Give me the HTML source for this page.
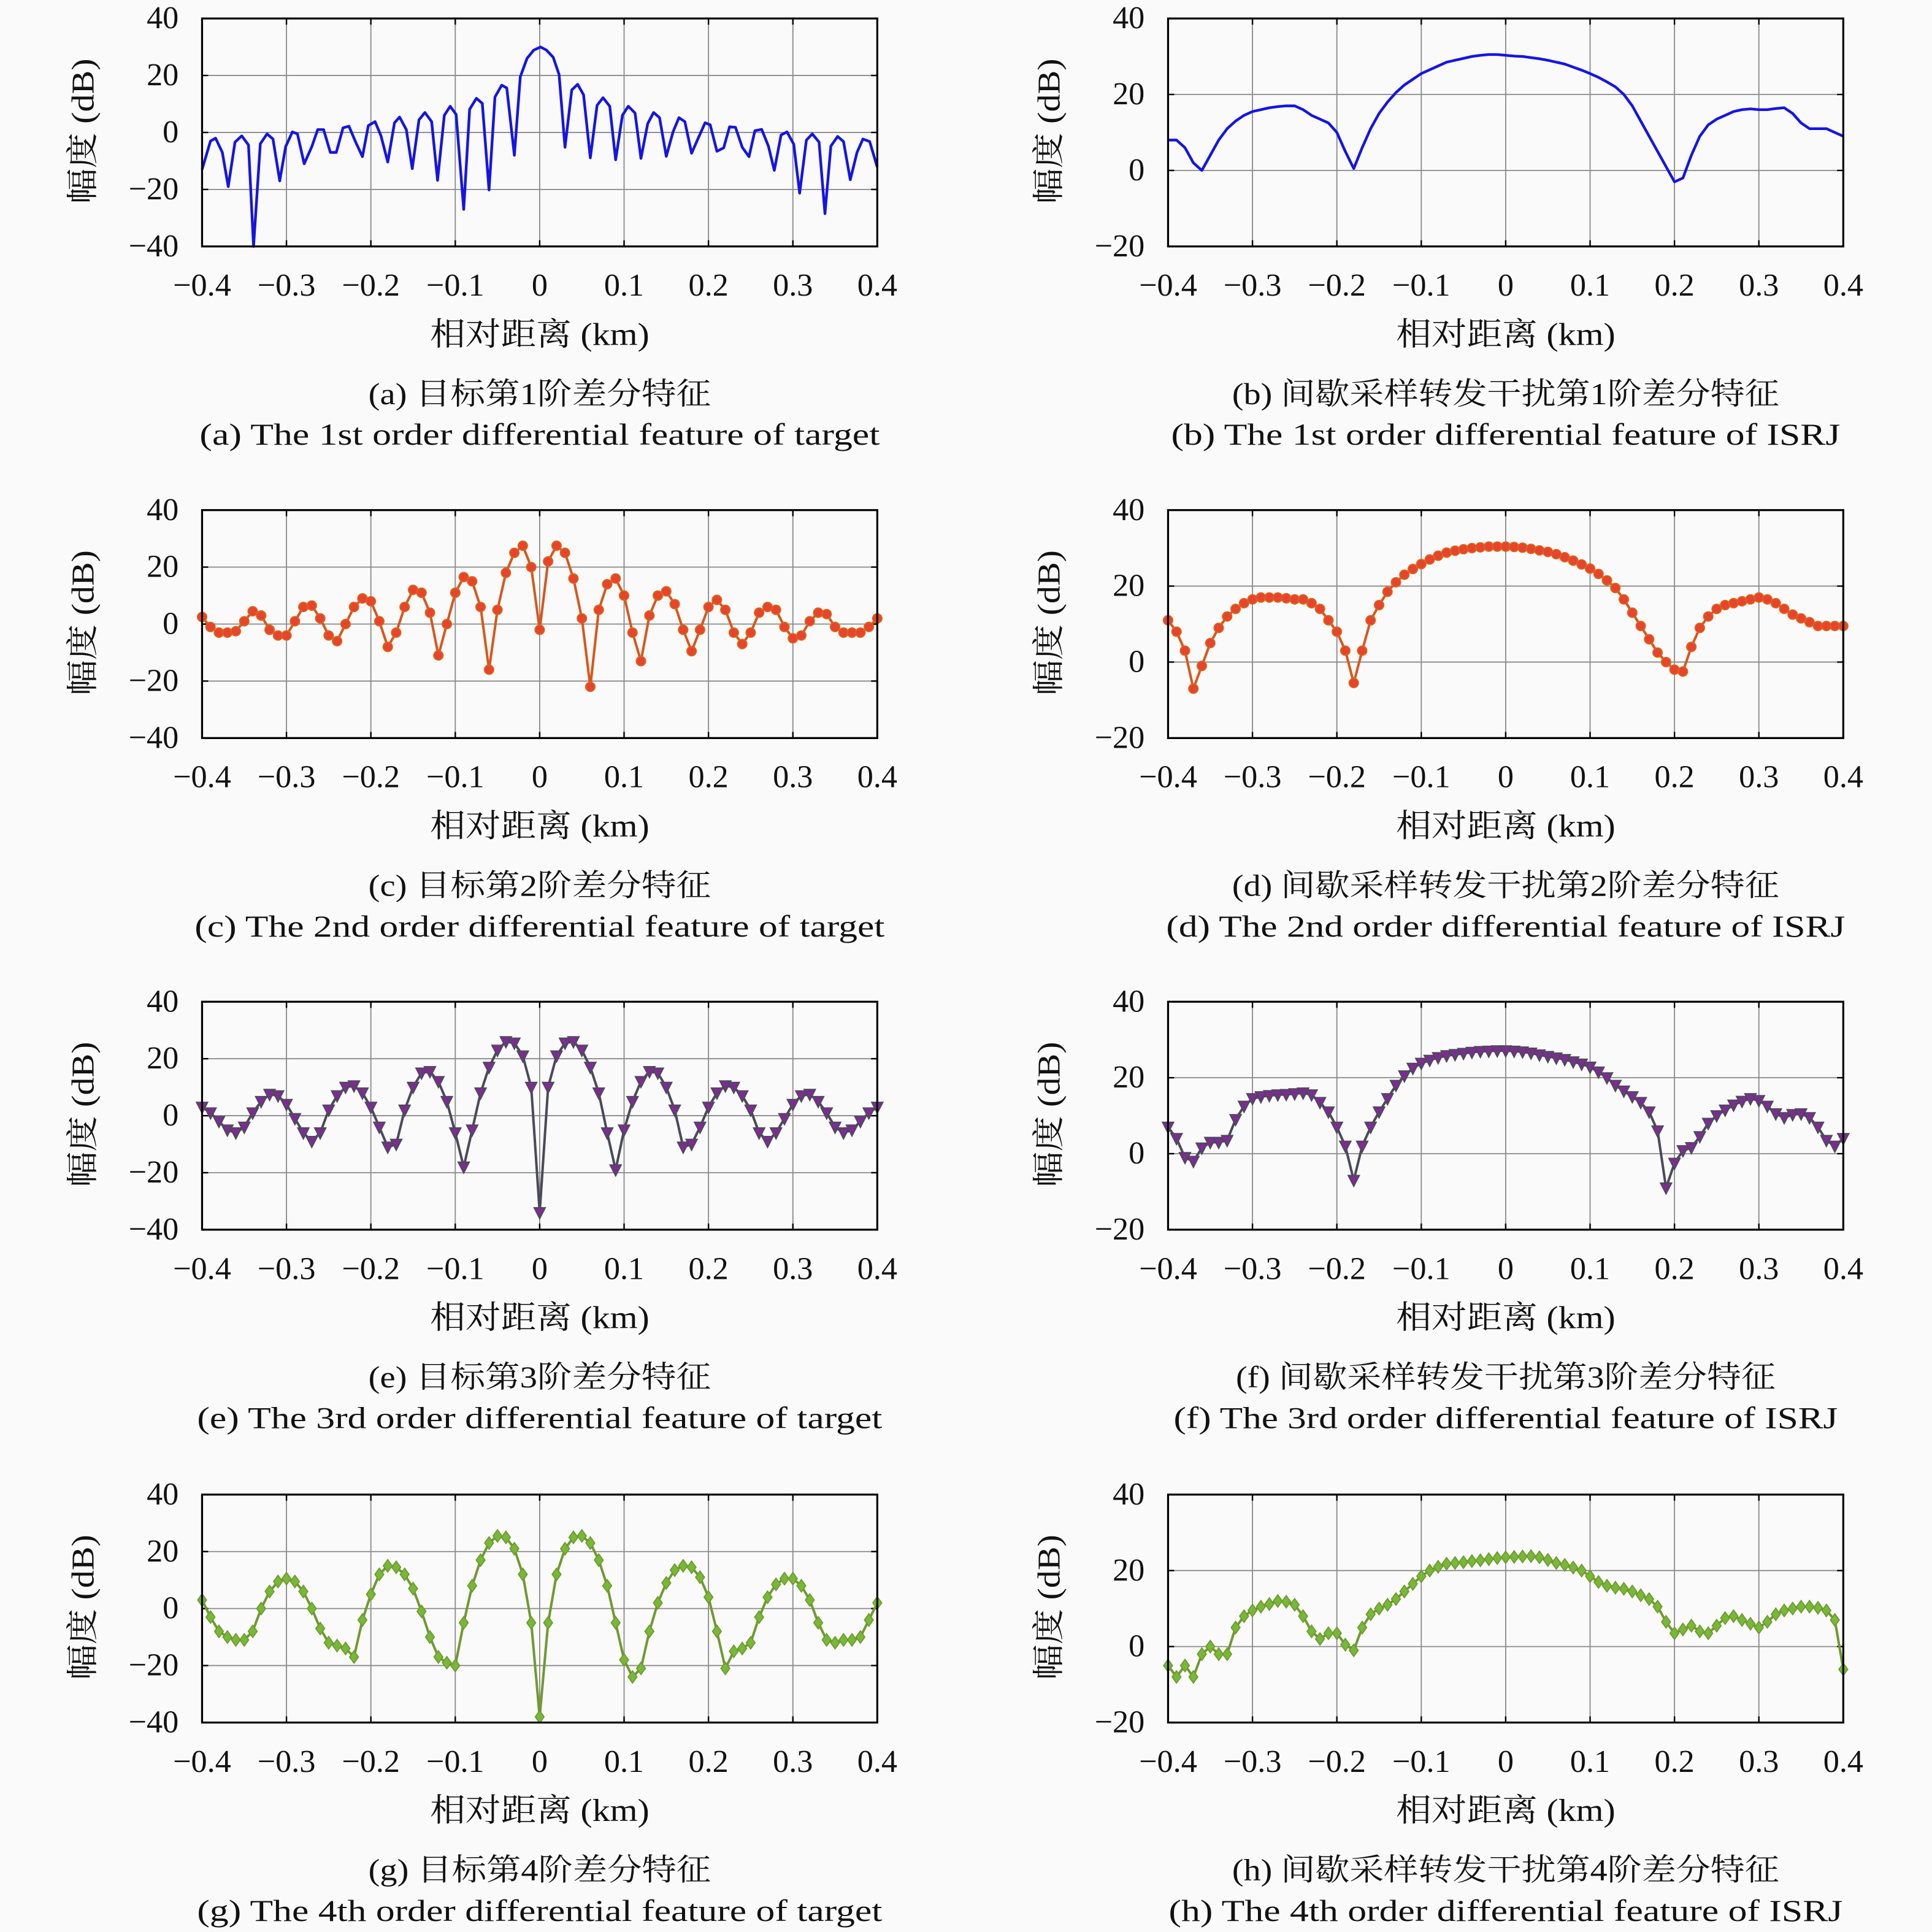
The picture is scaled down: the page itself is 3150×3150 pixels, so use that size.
<!DOCTYPE html>
<html><head><meta charset="utf-8">
<style>
html,body{margin:0;padding:0;background:#fafafa;}
svg{display:block;}
text{font-family:"Liberation Serif","Noto Serif CJK SC",serif;fill:#111;}
</style></head>
<body>
<svg id="fig" width="3150" height="3150" viewBox="0 0 1568 1568" xmlns="http://www.w3.org/2000/svg">
<rect x="0" y="0" width="1568" height="1568" fill="#fafafa"/>
</svg>
<script>
// ---- data ----
const xTicks = [-0.4,-0.3,-0.2,-0.1,0,0.1,0.2,0.3,0.4];
const xTickLabels = ["−0.4","−0.3","−0.2","−0.1","0","0.1","0.2","0.3","0.4"];
const yTicksLeft = [-40,-20,0,20,40];
const yTicksLeftLabels = ["−40","−20","0","20","40"];
const yTicksRight = [-20,0,20,40];
const yTicksRightLabels = ["−20","0","20","40"];

const xA = [-0.4,-0.390,-0.384,-0.376,-0.369,-0.361,-0.353,-0.345,-0.339,-0.331,-0.323,-0.316,-0.308,-0.301,-0.293,-0.287,-0.279,-0.270,-0.263,-0.256,-0.248,-0.241,-0.233,-0.226,-0.218,-0.210,-0.203,-0.195,-0.188,-0.180,-0.172,-0.166,-0.158,-0.151,-0.143,-0.136,-0.128,-0.121,-0.113,-0.106,-0.099,-0.090,-0.083,-0.075,-0.068,-0.060,-0.053,-0.045,-0.039,-0.030,-0.023,-0.015,-0.007,0.001,0.008,0.016,0.023,0.030,0.038,0.045,0.052,0.060,0.068,0.075,0.083,0.090,0.098,0.105,0.113,0.120,0.128,0.135,0.142,0.150,0.158,0.165,0.172,0.180,0.188,0.196,0.202,0.210,0.218,0.225,0.232,0.240,0.248,0.255,0.263,0.271,0.278,0.286,0.293,0.301,0.308,0.316,0.323,0.331,0.338,0.345,0.353,0.360,0.368,0.376,0.383,0.391,0.4];
const yA = [-13,-3,-2,-7,-19,-3.4,-1.2,-4.4,-40,-4,-0.5,-2.3,-17,-5,0.2,-0.5,-11,-5,1,1,-7,-7,1.6,2.2,-3.4,-8.5,2.4,3.8,-1.2,-10.4,3.4,5.4,1,-12.7,4.4,7,3.8,-16.8,6,9.2,6.3,-27,8.1,12,10.2,-20.2,12.4,16.6,15.6,-8,19.5,26,28.9,30,28.9,26.4,20.3,-5.2,14.9,16.9,13.2,-8.9,9.5,12.2,9.2,-9.6,6,9.2,6.8,-9.1,3.1,7,5.2,-8.4,0.2,5.2,3.8,-7.3,-1.9,3.4,2.7,-6.6,-5.4,2,1.8,-5.2,-8.5,0.6,1.1,-4.8,-13.3,-0.9,0.2,-4.1,-21.3,-2.7,-0.5,-3.4,-28.5,-4.8,-1.4,-3.2,-16.6,-7,-2.3,-3.2,-12.2];

const xGrid = [-0.40,-0.39,-0.38,-0.37,-0.36,-0.35,-0.34,-0.33,-0.32,-0.31,-0.30,-0.29,-0.28,-0.27,-0.26,-0.25,-0.24,-0.23,-0.22,-0.21,-0.20,-0.19,-0.18,-0.17,-0.16,-0.15,-0.14,-0.13,-0.12,-0.11,-0.10,-0.09,-0.08,-0.07,-0.06,-0.05,-0.04,-0.03,-0.02,-0.01,0,0.01,0.02,0.03,0.04,0.05,0.06,0.07,0.08,0.09,0.10,0.11,0.12,0.13,0.14,0.15,0.16,0.17,0.18,0.19,0.20,0.21,0.22,0.23,0.24,0.25,0.26,0.27,0.28,0.29,0.30,0.31,0.32,0.33,0.34,0.35,0.36,0.37,0.38,0.39,0.40];

const yB = [8,8,6,2,0,4,8,11,13,14.5,15.5,16,16.5,16.8,17,17,16,14.5,13.5,12.5,10,5,0.5,6,11,15,18,20.5,22.5,24,25.5,26.5,27.5,28.5,29,29.5,30,30.3,30.5,30.5,30.3,30.1,30,29.7,29.4,29,28.5,28,27.2,26.4,25.5,24.5,23.3,22,20,17,13,9,5,1,-3,-2,4,9,12,13.5,14.5,15.5,16,16.2,16,16,16.3,16.5,15,12.5,11,11,11,10,9];
const yC = [2.5,-1,-3,-3,-2.5,1,4.5,3,-2,-4,-4,1,6,6.5,2,-4,-6,0,6,9,8,1,-8,-3,6,12,11,4,-11,0,11,16.5,15,6,-16,5,18,25,27.5,20,-2,22,27.5,25,16,2,-22,5,14,16,10,-3,-13,3,10,11.5,7,-2,-9.5,-2,6,8.5,5,-3,-7,-3,4,6,5,-1,-5,-4,1,4,3.5,-1,-3,-3,-3,-1,2];
const yD = [11,8,3,-7,-1,5,9,12,14,15.5,16.5,17,17,17,16.8,16.5,16.5,15.5,14,11,8,3,-5.5,3,11,15,18.5,21,23,24.5,25.8,27,28,28.8,29.3,29.7,30,30.2,30.4,30.4,30.4,30.3,30.1,29.8,29.4,29,28.4,27.6,26.7,25.7,24.6,23.2,21.5,19.5,16.5,13,9.5,6,2.5,0,-2,-2.5,4,9,12,14,15,15.5,16,16.5,17,16.5,15.5,14,12.5,11.5,10.5,9.5,9.5,9.5,9.5];
const yE = [3,1,-2,-5,-6,-4,1,5,7.5,7,4,-1,-6,-9,-6,2,7,10,10.5,8,3,-4,-11,-10,2,10,15,15.5,12,5,-6,-18,-5,8,17,23,26,25.5,21,10,-34,10,21,25.5,26,23,17,8,-6,-19,-5,5,12,15.5,15,10,2,-11,-10,-4,3,8,10.5,10,7,2,-6,-9,-6,-1,4,7,7.5,5,1,-4,-6,-5,-2,1,3];
const yF = [7,4,-1,-2,1.5,3,3,3.5,9,12.5,14.5,15,15.3,15.5,15.6,15.8,16,15.5,13.5,11,7,2,-7,2,7,11,14.5,18,20.5,22.5,23.8,24.6,25.3,25.8,26.1,26.4,26.7,26.9,27,27.1,27.1,27,26.8,26.5,26,25.6,25.2,24.8,24.2,23.6,22.8,21.5,20,18,16.5,15,13.5,11,6,-9,-2.5,0.8,1.6,4.5,8,10,11.5,12.8,13.8,14.5,14,12.5,10.5,9.5,10.3,10.5,9.5,7,3.5,2,4];
const yG = [3,-3,-8,-10,-11,-11,-8,0,6,9.5,10.5,9.5,6,0,-7,-12,-13,-14,-17,-4,5,12,15,14.5,12,7,-1,-10,-17,-19,-20,-5,8,17,23,25.5,25,21,12,-5,-38,-5,12,21,25,25.5,23,17,8,-5,-18,-24,-21,-8,2,9,13.5,15,14.5,11,4,-8,-21,-15,-14,-12,-3,4,8.5,10.5,10.5,8,3,-5,-11,-12,-11,-11,-10,-4,2];
const yH = [-5,-8,-5,-8,-2,0,-2,-2,5,8,9.5,10.5,11.2,12,11.8,11,8,4,2,3.5,3.5,0.5,-1,5,8.5,10,11,12.5,14.5,16.5,18.5,20,21,21.8,22,22.2,22.5,22.7,23,23.3,23.5,23.6,23.7,23.8,23.5,22.8,22,21.5,20.8,20,18.5,17,16,15.5,15.2,14.5,13.5,12.5,10.5,6.5,3.5,4.5,5.5,4,3.5,5.5,7.5,8,7,6,5,6.5,8.5,9.5,10,10.5,10.5,10.2,9.5,7,-6];

const captionsZh = ["(a) 目标第1阶差分特征","(b) 间歇采样转发干扰第1阶差分特征","(c) 目标第2阶差分特征","(d) 间歇采样转发干扰第2阶差分特征","(e) 目标第3阶差分特征","(f) 间歇采样转发干扰第3阶差分特征","(g) 目标第4阶差分特征","(h) 间歇采样转发干扰第4阶差分特征"];
const captionsEn = ["(a) The 1st order differential feature of target","(b) The 1st order differential feature of ISRJ","(c) The 2nd order differential feature of target","(d) The 2nd order differential feature of ISRJ","(e) The 3rd order differential feature of target","(f) The 3rd order differential feature of ISRJ","(g) The 4th order differential feature of target","(h) The 4th order differential feature of ISRJ"];

// ---- drawing ----
const NS = "http://www.w3.org/2000/svg";
const svg = document.getElementById('fig');
function mk(tag, attrs, parent){ const e=document.createElementNS(NS,tag); for(const k in attrs) e.setAttribute(k,attrs[k]); (parent||svg).appendChild(e); return e; }

const zhLen = [278,444,278,444,278,438,278,444];
const enLen = [552,543,560,551,556,539,556,547];

const panels = [
 {xs:xA, ys:yA, col:0,row:0, yl:[-40,40], line:"#1414e6", lw:2.2, marker:null},
 {xs:xGrid, ys:yB, col:1,row:0, yl:[-20,40], line:"#1414e6", lw:2.2, marker:null},
 {xs:xGrid, ys:yC, col:0,row:1, yl:[-40,40], line:"#d9561a", lw:2, marker:"circle", mc:"#e8442c"},
 {xs:xGrid, ys:yD, col:1,row:1, yl:[-20,40], line:"#d9561a", lw:2, marker:"circle", mc:"#e8442c"},
 {xs:xGrid, ys:yE, col:0,row:2, yl:[-40,40], line:"#4a4a58", lw:2, marker:"tri", mc:"#7a2e8e"},
 {xs:xGrid, ys:yF, col:1,row:2, yl:[-20,40], line:"#4a4a58", lw:2, marker:"tri", mc:"#7a2e8e"},
 {xs:xGrid, ys:yG, col:0,row:3, yl:[-40,40], line:"#6f9a2e", lw:2, marker:"dia", mc:"#78b838"},
 {xs:xGrid, ys:yH, col:1,row:3, yl:[-20,40], line:"#6f9a2e", lw:2, marker:"dia", mc:"#78b838"}
];
const lefts=[164,948], tops=[15,414,813,1213], W=548, H=185;
const letters="abcdefgh";

panels.forEach((p,i)=>{
  const L=lefts[p.col], T=tops[p.row];
  const g=mk('g',{});
  
  
  const sx=v=>L+(v+0.4)/0.8*W;
  const sy=v=>T+H-(v-p.yl[0])/(p.yl[1]-p.yl[0])*H;
  const yt = p.yl[0]===-40 ? yTicksLeft : yTicksRight;
  const ytl = p.yl[0]===-40 ? yTicksLeftLabels : yTicksRightLabels;
  mk('rect',{x:L,y:T,width:W,height:H,fill:"#fafafa"},g);
  xTicks.forEach(t=>{ const gl=mk('line',{x1:sx(t),x2:sx(t),y1:T,y2:T+H,stroke:"#8a8a8a","stroke-width":0.9},g);
     
    mk('line',{x1:sx(t),x2:sx(t),y1:T+H,y2:T+H-5,stroke:"#000","stroke-width":1.2},g);
    mk('line',{x1:sx(t),x2:sx(t),y1:T,y2:T+5,stroke:"#000","stroke-width":1.2},g);});
  yt.forEach(t=>{ const gl=mk('line',{x1:L,x2:L+W,y1:sy(t),y2:sy(t),stroke:"#8a8a8a","stroke-width":0.9},g);
     
    mk('line',{x1:L,x2:L+5,y1:sy(t),y2:sy(t),stroke:"#000","stroke-width":1.2},g);
    mk('line',{x1:L+W,x2:L+W-5,y1:sy(t),y2:sy(t),stroke:"#000","stroke-width":1.2},g);});
  let d=""; p.xs.forEach((x,k)=>{ d+=(k?"L":"M")+sx(x).toFixed(2)+","+sy(p.ys[k]).toFixed(2); });
  const ln=mk('path',{d:d,fill:"none",stroke:p.line,"stroke-width":p.lw,"stroke-linejoin":"round"},g);
  
  
  if(p.marker){
    p.xs.forEach((x,k)=>{
      const cx=sx(x), cy=sy(p.ys[k]); let m;
      if(p.marker==="circle") m=mk('circle',{cx:cx,cy:cy,r:3.8,fill:p.mc,stroke:"#d9661a","stroke-width":0.9},g);
      else if(p.marker==="tri") m=mk('polygon',{points:`${cx-4.6},${cy-4} ${cx+4.6},${cy-4} ${cx},${cy+5}`,fill:p.mc,stroke:"#4a4a58","stroke-width":0.9},g);
      else m=mk('polygon',{points:`${cx},${cy-5} ${cx+3.6},${cy} ${cx},${cy+5} ${cx-3.6},${cy}`,fill:p.mc,stroke:"#6f9a2e","stroke-width":0.9},g);
      
      
    });
  }
  const fr=mk('rect',{x:L,y:T,width:W,height:H,fill:"none",stroke:"#000","stroke-width":1.6},g);
  
  
  xTicks.forEach((t,k)=>{ const tx=mk('text',{x:sx(t),y:T+H+40,"text-anchor":"middle","font-size":26},g); tx.textContent=xTickLabels[k];
     });
  yt.forEach((t,k)=>{ const tx=mk('text',{x:L-19,y:sy(t)+8,"text-anchor":"end","font-size":26},g); tx.textContent=ytl[k];
     });
  const cx=L+W/2;
  const xl=mk('text',{x:cx,y:T+H+80,"text-anchor":"middle","font-size":26,textLength:178,lengthAdjust:"spacingAndGlyphs"},g); xl.textContent="相对距离 (km)";
   
  const yx=L-88, yy=T+H/2-1;
  const yl=mk('text',{x:yx,y:yy,"text-anchor":"middle","font-size":26,textLength:118,lengthAdjust:"spacingAndGlyphs",transform:`rotate(-90 ${yx} ${yy})`},g); yl.textContent="幅度 (dB)";
   
  const cz=mk('text',{x:cx,y:T+H+128,"text-anchor":"middle","font-size":25,textLength:zhLen[i],lengthAdjust:"spacingAndGlyphs"},g); cz.textContent=captionsZh[i];
   
  const ce=mk('text',{x:cx,y:T+H+161,"text-anchor":"middle","font-size":25,textLength:enLen[i],lengthAdjust:"spacingAndGlyphs"},g); ce.textContent=captionsEn[i];
   
});
</script>
</body></html>
